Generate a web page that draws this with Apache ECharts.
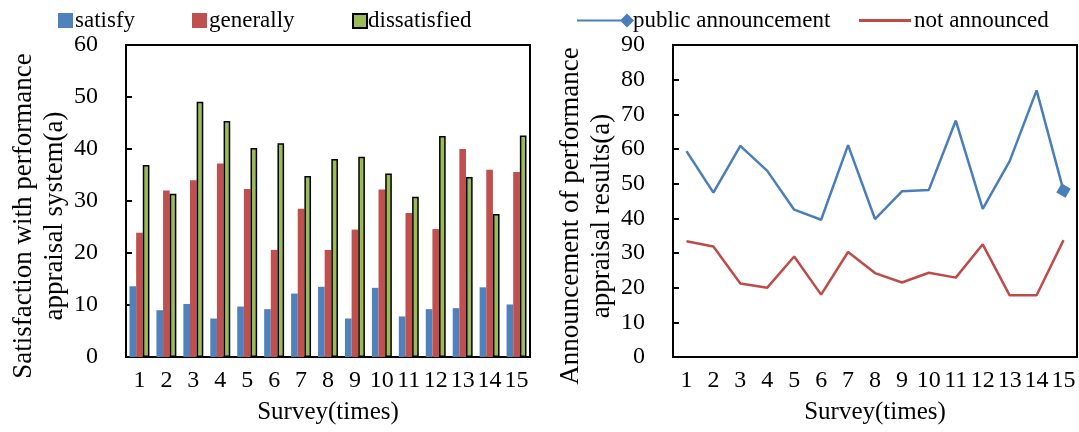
<!DOCTYPE html>
<html>
<head>
<meta charset="utf-8">
<script src="https://cdn.jsdelivr.net/npm/echarts@6/dist/echarts.min.js"></script>
<style>
  html, body { margin: 0; padding: 0; background: #fff; }
  #chart { width: 1079px; height: 432px; }
</style>
</head>
<body>
<div id="chart"></div>
<script>
// Survey rounds
const categories = ['1','2','3','4','5','6','7','8','9','10','11','12','13','14','15'];

// Satisfaction with the performance appraisal system
const satisfy      = [13.6, 9.0, 10.2, 7.4, 9.7, 9.2, 12.2, 13.5, 7.4, 13.3, 7.8, 9.2, 9.4, 13.4, 10.1];
const generally    = [23.9, 32.0, 34.0, 37.2, 32.3, 20.6, 28.5, 20.6, 24.5, 32.2, 27.7, 24.6, 40.0, 36.0, 35.6];
const dissatisfied = [36.9, 31.4, 49.1, 45.4, 40.2, 41.1, 34.8, 38.1, 38.5, 35.3, 30.8, 42.5, 34.6, 27.5, 42.6];

// Announcement of the appraisal results
const publicAnnouncement = [59.4, 47.4, 60.9, 53.7, 42.5, 39.6, 61.1, 39.8, 47.8, 48.2, 68.2, 42.7, 56.5, 76.9, 48.0];
const notAnnounced       = [33.4, 31.9, 21.2, 20.0, 29.0, 18.0, 30.3, 24.2, 21.5, 24.3, 22.9, 32.5, 17.8, 17.8, 33.7];

// Legend captions with the x where each caption starts
const legendNames = ['satisfy', 'generally', 'dissatisfied', 'public announcement', 'not announced'];
const legendTextX = [75, 209, 368, 633, 914];

const FONT = "Liberation Serif";
const BLUE = '#4F81BD', RED = '#C0504D', GREEN = '#9BBB59';
const LBLUE = '#4A7EBB', LRED = '#BE4B48';

function xAxisFor(gridIndex) {
  return {
    type: 'category', gridIndex, data: categories,
    name: 'Survey(times)', nameLocation: 'middle', nameGap: 43,
    nameTextStyle: { fontFamily: FONT, fontSize: 25, color: '#000' },
    axisLine: { lineStyle: { color: '#000', width: 2 } },
    axisTick: { inside: true, length: 5, lineStyle: { color: '#000', width: 2 } },
    axisLabel: { margin: 12, interval: 0, fontFamily: FONT, fontSize: 24, color: '#000' },
    splitLine: { show: false }
  };
}
function yAxisFor(gridIndex, max, name, nameGap) {
  return {
    type: 'value', gridIndex, min: 0, max, interval: 10,
    name, nameLocation: 'middle', nameGap,
    nameTextStyle: { fontFamily: FONT, fontSize: 27, color: '#000', lineHeight: 31, padding: [0, 30, 0, 0] },
    axisLine: { show: true, lineStyle: { color: '#000', width: 2 } },
    axisTick: { show: true, inside: true, length: 6, lineStyle: { color: '#000', width: 2 } },
    axisLabel: { margin: 28, fontFamily: FONT, fontSize: 24, color: '#000' },
    splitLine: { show: false }
  };
}

// Legend components draw the swatches; captions are separate serif text elements
function legendFor(left, name, extra) {
  return Object.assign({
    left, top: 13, itemGap: 0, padding: 0,
    data: [name],
    formatter: () => ''
  }, extra);
}

const chart = echarts.init(document.getElementById('chart'), null, { renderer: 'canvas' });
chart.setOption({
  animation: false,
  backgroundColor: '#fff',
  grid: [
    { left: 126, top: 45, width: 404, height: 312, show: true, borderColor: '#000', borderWidth: 2, backgroundColor: 'transparent' },
    { left: 673, top: 45, width: 404, height: 312, show: true, borderColor: '#000', borderWidth: 2, backgroundColor: 'transparent' }
  ],
  legend: [
    legendFor(58, legendNames[0], { itemWidth: 15, itemHeight: 15, icon: 'rect' }),
    legendFor(192, legendNames[1], { itemWidth: 15, itemHeight: 15, icon: 'rect' }),
    legendFor(352, legendNames[2], { itemWidth: 14, itemHeight: 14, icon: 'rect' }),
    legendFor(577, legendNames[3], { itemWidth: 57, itemHeight: 15,
      icon: 'path://M0,6.5L46,6.5L46,8.5L0,8.5Z M43,7.5L50,0.5L57,7.5L50,14.5Z M0,0L0.01,0L0.01,0.01Z M0,15L0.01,15L0.01,14.99Z' }),
    legendFor(859, legendNames[4], { itemWidth: 52, itemHeight: 15,
      icon: 'path://M0,6L52,6L52,9L0,9Z M0,0L0.01,0L0.01,0.01Z M0,15L0.01,15L0.01,14.99Z' })
  ],
  graphic: legendNames.map((n, i) => ({
    type: 'text', left: legendTextX[i], top: 9, silent: true,
    style: { text: n, font: '23px "Liberation Serif"', fill: '#000' }
  })),
  xAxis: [xAxisFor(0), xAxisFor(1)],
  yAxis: [
    yAxisFor(0, 60, 'Satisfaction with performance\nappraisal system(a)', 51),
    yAxisFor(1, 90, 'Announcement of performance\nappraisal results(a)', 46)
  ],
  series: [
    { name: legendNames[0], type: 'bar', xAxisIndex: 0, yAxisIndex: 0, data: satisfy,
      barGap: '0%', barCategoryGap: '26%', itemStyle: { color: BLUE } },
    { name: legendNames[1], type: 'bar', xAxisIndex: 0, yAxisIndex: 0, data: generally,
      barGap: '0%', barCategoryGap: '26%', itemStyle: { color: RED } },
    { name: legendNames[2], type: 'bar', xAxisIndex: 0, yAxisIndex: 0, data: dissatisfied,
      barGap: '0%', barCategoryGap: '26%', itemStyle: { color: GREEN, borderColor: '#000', borderWidth: 1.5 } },
    { name: legendNames[3], type: 'line', xAxisIndex: 1, yAxisIndex: 1,
      data: publicAnnouncement.map((v, i) => i === publicAnnouncement.length - 1
        ? { value: v, symbol: 'diamond', symbolSize: 15, symbolRotate: 15 }
        : { value: v, symbol: 'none' }),
      showSymbol: true, symbol: 'none',
      color: LBLUE, lineStyle: { color: LBLUE, width: 2.5 }, itemStyle: { color: LBLUE } },
    { name: legendNames[4], type: 'line', xAxisIndex: 1, yAxisIndex: 1, data: notAnnounced,
      symbol: 'none', color: LRED, lineStyle: { color: LRED, width: 2.5 }, itemStyle: { color: LRED } }
  ]
});
</script>
</body>
</html>
